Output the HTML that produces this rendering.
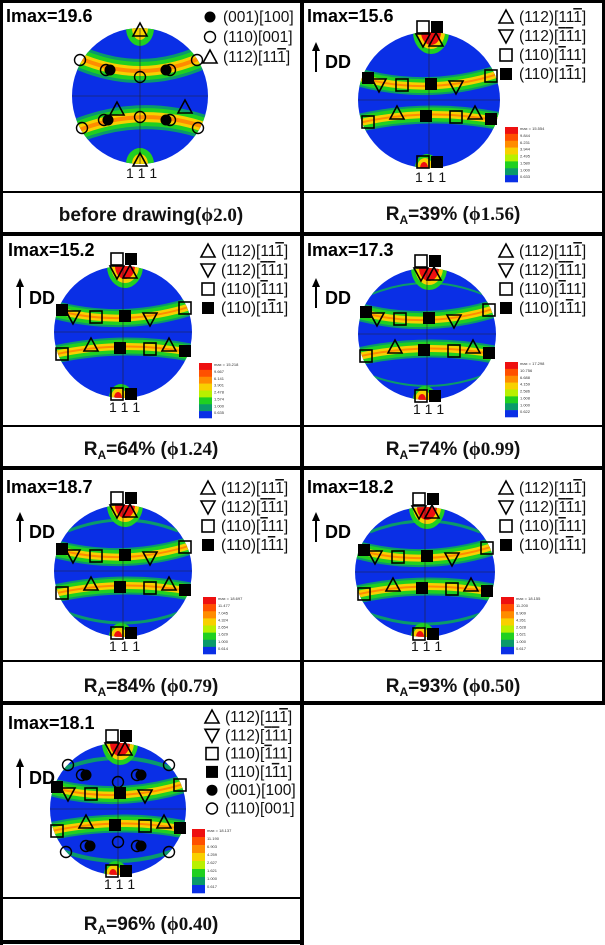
<!DOCTYPE html>
<html><head><meta charset="utf-8">
<style>
html,body{margin:0;padding:0;background:#fff;}
svg{display:block;}
.t{font-family:"Liberation Sans",sans-serif;font-weight:bold;}
.lg{font-family:"Liberation Sans",sans-serif;font-size:15.5px;fill:#111;}
.cap{font-family:"Liberation Sans",sans-serif;font-weight:bold;font-size:19px;fill:#111;}
.phi{font-family:"Liberation Serif",serif;font-weight:bold;}
.sm{font-family:"Liberation Sans",sans-serif;font-size:4px;fill:#333;}
</style></head>
<body>
<div id="w"></div>
<script>
var s='<svg width="605" height="945" xmlns="http://www.w3.org/2000/svg">';
s+='<rect width="605" height="945" fill="#fff"/>';
var BLUE='#0a2fe6',TEAL='#0a9a6a',GRN='#20d020',LIM='#b8f000',YEL='#f8d000',ORA='#ff8c00',RED='#ee1010';
var id=0;
function pole(cx,cy,rx,ry,kind,arcs){
 id++;var c='c'+id;
 var o='<defs><clipPath id="'+c+'"><ellipse cx="'+cx+'" cy="'+cy+'" rx="'+rx+'" ry="'+ry+'"/></clipPath></defs>';
 o+='<ellipse cx="'+cx+'" cy="'+cy+'" rx="'+rx+'" ry="'+ry+'" fill="'+BLUE+'"/>';
 o+='<g clip-path="url(#'+c+')">';
 var bands;
 if(kind==1){
  bands=['M'+(cx-75)+','+(cy-45)+' Q'+(cx)+','+(cy-5)+' '+(cx+75)+','+(cy-45),
         'M'+(cx-75)+','+(cy+40)+' Q'+(cx)+','+(cy+5)+' '+(cx+75)+','+(cy+35)];
  var w=[24,18,10,4];
 } else {
  bands=['M'+(cx-75)+','+(cy-24)+' Q'+cx+','+(cy-2)+' '+(cx+75)+','+(cy-28),
         'M'+(cx-75)+','+(cy+24)+' Q'+cx+','+(cy+6)+' '+(cx+75)+','+(cy+22)];
  var w=[18,14,7,2];
 }
 var cols=[TEAL,GRN,YEL,ORA];
 for(var i=0;i<4;i++)bands.forEach(function(p){o+='<path d="'+p+'" fill="none" stroke="'+cols[i]+'" stroke-width="'+w[i]+'"/>';});
 if(arcs){
  o+='<path d="M'+(cx-55)+','+(cy-40)+' Q'+cx+','+(cy-62)+' '+(cx+55)+','+(cy-40)+'" fill="none" stroke="'+TEAL+'" stroke-width="'+arcs+'"/>';
  o+='<path d="M'+(cx-55)+','+(cy+42)+' Q'+cx+','+(cy+62)+' '+(cx+55)+','+(cy+42)+'" fill="none" stroke="'+TEAL+'" stroke-width="'+arcs+'"/>';
 }
 if(kind==1){
  o+='<ellipse cx="'+cx+'" cy="'+(cy-ry)+'" rx="14" ry="18" fill="'+GRN+'"/><ellipse cx="'+cx+'" cy="'+(cy-ry)+'" rx="8" ry="12" fill="'+YEL+'"/>';
  o+='<ellipse cx="'+cx+'" cy="'+(cy+ry)+'" rx="14" ry="16" fill="'+GRN+'"/><ellipse cx="'+cx+'" cy="'+(cy+ry)+'" rx="8" ry="10" fill="'+YEL+'"/>';
 } else {
  o+='<ellipse cx="'+(cx+2)+'" cy="'+(cy-ry)+'" rx="18" ry="22" fill="'+GRN+'"/><ellipse cx="'+(cx+2)+'" cy="'+(cy-ry)+'" rx="14" ry="17" fill="'+YEL+'"/><ellipse cx="'+(cx+2)+'" cy="'+(cy-ry)+'" rx="10" ry="13" fill="'+RED+'"/>';
  o+='<ellipse cx="'+(cx-2)+'" cy="'+(cy+ry)+'" rx="12" ry="14" fill="'+GRN+'"/><ellipse cx="'+(cx-4)+'" cy="'+(cy+ry)+'" rx="8" ry="10" fill="'+YEL+'"/><ellipse cx="'+(cx-5)+'" cy="'+(cy+ry)+'" rx="4" ry="6" fill="'+RED+'"/>';
 }
 o+='</g>';
 o+='<line x1="'+(cx-rx)+'" y1="'+cy+'" x2="'+(cx+rx)+'" y2="'+cy+'" stroke="#223" stroke-width="0.6"/>';
 o+='<line x1="'+cx+'" y1="'+(cy-ry)+'" x2="'+cx+'" y2="'+(cy+ry)+'" stroke="#223" stroke-width="0.6"/>';
 o+='<text x="'+(cx-14)+'" y="'+(cy+ry+14)+'" style="font-family:Liberation Sans,sans-serif;font-size:14px" fill="#111">1 1 1</text>';
 return o;
}
function m(t,x,y){
 var a=6;
 if(t=='os')return '<rect x="'+(x-a)+'" y="'+(y-a)+'" width="'+(2*a)+'" height="'+(2*a)+'" fill="none" stroke="#000" stroke-width="1.6"/>';
 if(t=='fs')return '<rect x="'+(x-a)+'" y="'+(y-a)+'" width="'+(2*a)+'" height="'+(2*a)+'" fill="#000"/>';
 if(t=='ut')return '<polygon points="'+x+','+(y-7)+' '+(x-7)+','+(y+6)+' '+(x+7)+','+(y+6)+'" fill="none" stroke="#000" stroke-width="1.6"/>';
 if(t=='dt')return '<polygon points="'+x+','+(y+7)+' '+(x-7)+','+(y-6)+' '+(x+7)+','+(y-6)+'" fill="none" stroke="#000" stroke-width="1.6"/>';
 if(t=='oc')return '<circle cx="'+x+'" cy="'+y+'" r="5.5" fill="none" stroke="#000" stroke-width="1.4"/>';
 if(t=='fc')return '<circle cx="'+x+'" cy="'+y+'" r="5.5" fill="#000"/>';
}
var STD=[['os',-6,-73],['fs',8,-73],['dt',-6,-60],['ut',7,-60],['fs',-61,-22],['dt',-50,-15],['os',-27,-15],['fs',2,-16],['dt',27,-13],['os',62,-24],['ut',-32,13],['fs',-3,16],['os',27,17],['ut',46,13],['fs',62,19],['os',-61,22],['os',-6,62],['fs',8,62]];
var P1=[['ut',0,-66],['oc',-60,-36],['oc',57,-36],['oc',-34,-26],['fc',-30,-26],['oc',30,-26],['fc',26,-26],['oc',0,-19],['ut',-23,13],['ut',45,11],['oc',0,21],['oc',-36,24],['fc',-32,24],['oc',30,24],['fc',26,24],['oc',-58,32],['oc',58,32],['ut',0,64]];
var P7=STD.concat([['oc',-50,-44],['oc',51,-44],['oc',0,-27],['oc',-36,-34],['fc',-32,-34],['oc',19,-34],['fc',23,-34],['oc',-32,37],['fc',-28,37],['oc',19,37],['fc',23,37],['oc',0,33],['oc',-52,43],['oc',51,43]]);
function marks(cx,cy,L){var o='';L.forEach(function(q){o+=m(q[0],cx+q[1],cy+q[2]);});return o;}
function ov(t){return '<tspan text-decoration="overline">'+t+'</tspan>';}
var LEG={ut:'(112)[11'+ov('1')+']',dt:'(112)['+ov('1')+ov('1')+'1]',os:'(110)['+ov('1')+'11]',fs:'(110)[1'+ov('1')+'1]',fc:'(001)[100]',oc:'(110)[001]'};
function legend(x,y,keys,dy){var o='';keys.forEach(function(k,i){var yy=y+i*dy;o+=m(k,x,yy-5)+'<text class="lg" x="'+(x+13)+'" y="'+yy+'">'+LEG[k]+'</text>';});return o;}
function cbar(x,y,h,labels){
 var cs=[RED,'#ff5000',ORA,YEL,LIM,GRN,TEAL,BLUE];var o='';var hh=h/8;
 cs.forEach(function(c,i){o+='<rect x="'+x+'" y="'+(y+i*hh)+'" width="13" height="'+(hh+0.3)+'" fill="'+c+'"/>';o+='<text class="sm" x="'+(x+15)+'" y="'+(y+i*hh+3)+'">'+labels[i]+'</text>';});
 return o;
}
function dd(x,y){return '<line x1="'+x+'" y1="'+(y+30)+'" x2="'+x+'" y2="'+(y+3)+'" stroke="#000" stroke-width="2"/><polygon points="'+x+','+y+' '+(x-4)+','+(y+9)+' '+(x+4)+','+(y+9)+'"/><text class="t" x="'+(x+9)+'" y="'+(y+26)+'" font-size="18">DD</text>';}
function imax(x,y,v){return '<text class="t" x="'+x+'" y="'+y+'" font-size="18">Imax='+v+'</text>';}
function cap(cx,y,ra,phi){
 if(ra==null)return '<text class="cap" x="'+cx+'" y="'+y+'" text-anchor="middle">before drawing(<tspan class="phi">ϕ2.0</tspan>)</text>';
 return '<text class="cap" x="'+cx+'" y="'+y+'" text-anchor="middle">R<tspan font-size="12" dy="4">A</tspan><tspan dy="-4">='+ra+'% (</tspan><tspan class="phi">ϕ'+phi+'</tspan>)</text>';
}
var K4=['ut','dt','os','fs'];
s+=pole(140,96,68,68,1,0)+marks(140,96,P1)+imax(6,22,'19.6')+legend(210,22,['fc','oc','ut'],20)+cap(151,221,null);
s+=pole(429,100,71,68,2,0)+marks(429,100,STD)+imax(307,22,'15.6')+dd(316,42)+legend(506,22,K4,19)+cbar(505,127,55,['max = 15.554','9.844','6.231','3.944','2.495','1.580','1.000','0.633'])+cap(453,220,'39','1.56');
s+=pole(123,332,69,66,2,0)+marks(123,332,STD)+imax(8,256,'15.2')+dd(20,278)+legend(208,256,K4,19)+cbar(199,363,55,['max = 15.218','9.667','6.141','3.901','2.478','1.574','1.000','0.635'])+cap(151,455,'64','1.24');
s+=pole(427,334,69,66,2,2)+marks(427,334,STD)+imax(307,256,'17.3')+dd(316,278)+legend(506,256,K4,19)+cbar(505,362,55,['max = 17.298','10.756','6.688','4.159','2.586','1.608','1.000','0.622'])+cap(453,455,'74','0.99');
s+=pole(123,571,69,66,2,3)+marks(123,571,STD)+imax(6,493,'18.7')+dd(20,512)+legend(208,493,K4,19)+cbar(203,597,57,['max = 18.697','11.477','7.045','4.324','2.654','1.629','1.000','0.614'])+cap(151,692,'84','0.79');
s+=pole(425,572,70,65,2,3)+marks(425,572,STD)+imax(307,493,'18.2')+dd(316,512)+legend(506,493,K4,19)+cbar(501,597,57,['max = 18.155','11.200','6.909','4.261','2.628','1.621','1.000','0.617'])+cap(453,692,'93','0.50');
s+=pole(118,809,68,66,2,4)+marks(118,809,P7)+imax(8,729,'18.1')+dd(20,758)+legend(212,722,['ut','dt','os','fs','fc','oc'],18.3)+cbar(192,829,64,['max = 18.137','11.190','6.903','4.259','2.627','1.621','1.000','0.617'])+cap(151,930,'96','0.40');
s+='<line x1="0" y1="1.5" x2="605" y2="1.5" stroke="#000" stroke-width="3"/>';
s+='<line x1="0" y1="234" x2="605" y2="234" stroke="#000" stroke-width="4"/>';
s+='<line x1="0" y1="468" x2="605" y2="468" stroke="#000" stroke-width="4"/>';
s+='<line x1="0" y1="703" x2="605" y2="703" stroke="#000" stroke-width="4"/>';
s+='<line x1="0" y1="942" x2="304" y2="942" stroke="#000" stroke-width="4"/>';
s+='<line x1="1.5" y1="0" x2="1.5" y2="945" stroke="#000" stroke-width="3"/>';
s+='<line x1="302" y1="0" x2="302" y2="945" stroke="#000" stroke-width="4"/>';
s+='<line x1="603.5" y1="0" x2="603.5" y2="705" stroke="#000" stroke-width="3"/>';
[192,426,661].forEach(function(y){s+='<line x1="0" y1="'+y+'" x2="605" y2="'+y+'" stroke="#000" stroke-width="2"/>';});
s+='<line x1="0" y1="898" x2="302" y2="898" stroke="#000" stroke-width="2"/>';
s+='</svg>';
document.getElementById('w').innerHTML=s;
</script>
</body></html>
